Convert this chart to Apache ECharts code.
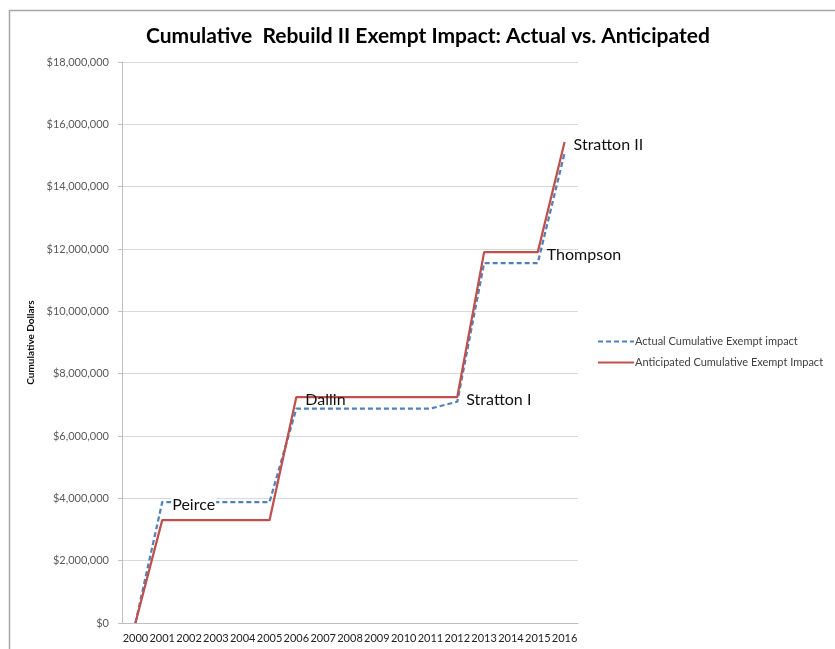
<!DOCTYPE html>
<html>
<head>
<meta charset="utf-8">
<script src="https://cdn.jsdelivr.net/npm/echarts@6/dist/echarts.min.js"></script>
<style>html,body{margin:0;padding:0;background:#fff}#c{width:835px;height:649px}</style>
</head>
<body>
<div id="c"></div>
<script>
const years = ['2000','2001','2002','2003','2004','2005','2006','2007','2008','2009','2010','2011','2012','2013','2014','2015','2016'];
const actual = [0, 3880000, 3880000, 3880000, 3880000, 3880000, 6880000, 6880000, 6880000, 6880000, 6880000, 6880000, 7100000, 11550000, 11550000, 11550000, 15080000];
const anticipated = [0, 3300000, 3300000, 3300000, 3300000, 3300000, 7250000, 7250000, 7250000, 7250000, 7250000, 7250000, 7250000, 11900000, 11900000, 11900000, 15430000];
const actualNotes = {1: 'Peirce'};
const anticipatedNotes = {6: 'Dallin', 12: 'Stratton I', 15: 'Thompson', 16: 'Stratton II'};
const yTicks = {min: 0, max: 18000000, interval: 2000000};

const FONT = 'Lato';
function notePoints(values, notes, bg) {
  return Object.keys(notes).map(k => {
    const i = +k;
    return {
      coord: [years[i], values[i]], value: values[i],
      label: {
        show: true, formatter: notes[i], position: 'right', distance: 9, offset: [0, 2.5],
        fontFamily: FONT, fontSize: 16, color: '#111',
        backgroundColor: bg ? '#fff' : 'transparent', padding: bg ? [0, 1] : 0
      }
    };
  });
}

const chart = echarts.init(document.getElementById('c'), null, {renderer: 'canvas'});
chart.setOption({
  animation: false,
  backgroundColor: '#fff',
  graphic: [{
    type: 'rect', shape: {x: 9.5, y: 10.5, width: 900, height: 700},
    style: {fill: 'none', stroke: '#a6a6a6', lineWidth: 1.5}, silent: true
  }],
  title: {
    text: 'Cumulative  Rebuild II Exempt Impact: Actual vs. Anticipated',
    left: 141, top: 21,
    textStyle: {fontFamily: FONT, fontWeight: 'bold', fontSize: 21, color: '#000'}
  },
  legend: {
    orient: 'vertical', left: 597, top: 336, padding: 0, itemWidth: 36, itemHeight: 10, itemGap: 10,
    itemStyle: {opacity: 0},
    textStyle: {fontFamily: FONT, fontSize: 11, color: '#404040', padding: [0, 0, 0, -4]},
    data: ['Actual Cumulative Exempt impact', 'Anticipated Cumulative Exempt Impact']
  },
  grid: {left: 122, right: 257, top: 62, bottom: 26, containLabel: false},
  xAxis: {
    type: 'category', data: years, boundaryGap: true,
    axisLine: {lineStyle: {color: '#bfbfbf', width: 1}},
    axisTick: {show: false},
    axisLabel: {interval: 0, fontFamily: FONT, fontSize: 11, color: '#222', margin: 10}
  },
  yAxis: {
    type: 'value', min: yTicks.min, max: yTicks.max, interval: yTicks.interval,
    name: 'Cumulative Dollars', nameLocation: 'middle', nameRotate: 90, nameGap: 70,
    nameTextStyle: {fontFamily: FONT, fontWeight: 'bold', fontSize: 10, color: '#111'},
    axisLine: {show: true, lineStyle: {color: '#bfbfbf', width: 1}},
    axisTick: {show: true, length: 4, lineStyle: {color: '#bfbfbf'}},
    splitLine: {lineStyle: {color: '#d9d9d9', width: 1}},
    axisLabel: {
      fontFamily: FONT, fontSize: 11, color: '#595959', margin: 13,
      formatter: v => '$' + v.toLocaleString('en-US')
    }
  },
  series: [{
    name: 'Actual Cumulative Exempt impact', type: 'line', symbol: 'none',
    data: actual,
    lineStyle: {color: '#4f81bd', width: 2.25, type: [5, 3]},
    itemStyle: {color: '#4f81bd'}, z: 2,
    markPoint: {symbol: 'circle', symbolSize: 0, silent: true, data: notePoints(actual, actualNotes, true), z: 5}
  }, {
    name: 'Anticipated Cumulative Exempt Impact', type: 'line', symbol: 'none',
    data: anticipated,
    lineStyle: {color: '#c0504d', width: 2.25},
    itemStyle: {color: '#c0504d'}, z: 3,
    markPoint: {symbol: 'circle', symbolSize: 0, silent: true, data: notePoints(anticipated, anticipatedNotes, false)}
  }]
});
</script>
</body>
</html>
